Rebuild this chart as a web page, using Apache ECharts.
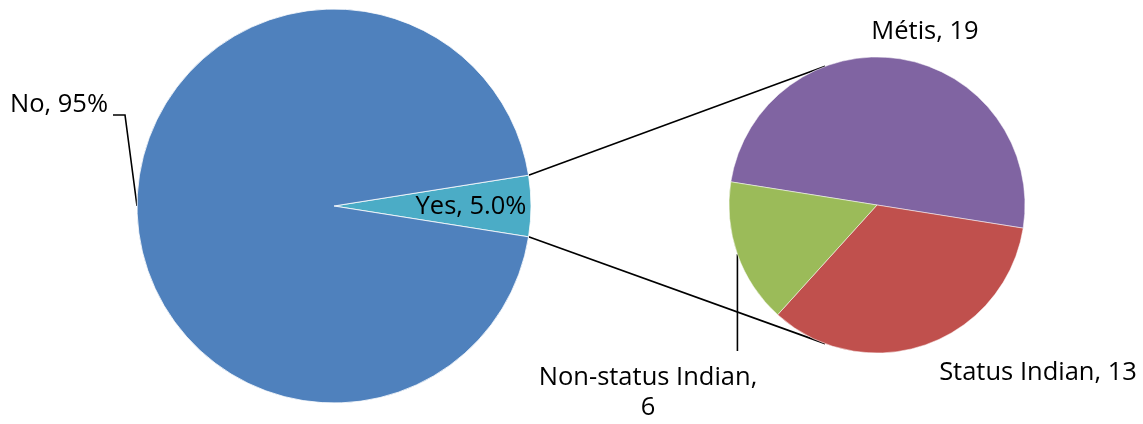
<!DOCTYPE html>
<html>
<head>
    <meta charset="utf-8"/>
    <title>Pie of pie</title>
    <script src="https://cdn.jsdelivr.net/npm/echarts@6/dist/echarts.min.js"></script>
    <style>
        html, body { margin: 0; padding: 0; background: #fff; }
        #chart { width: 1143px; height: 424px; }
    </style>
</head>
<body>
<div id="chart"></div>
<script>
    // 数据
    var mainNames = ['Yes', 'No'];
    var mainValues = [5.0, 95];
    var subNames = ['Métis', 'Status Indian', 'Non-status Indian'];
    var subValues = [19, 13, 6];

    var mainColors = ['#4BACC6', '#4F81BD'];
    var subColors = ['#8064A2', '#C0504D', '#9BBB59'];

    // 几何
    var mainCenter = [334, 206], mainR = 197;
    var subCenter = [877, 205], subR = 148;
    var connAngle = 110.5; // 右侧饼图连接点角度

    var yesHalf = mainValues[0] / (mainValues[0] + mainValues[1]) * 180;

    function pt(c, r, deg) {
        var a = deg * Math.PI / 180;
        return [c[0] + r * Math.cos(a), c[1] - r * Math.sin(a)];
    }

    var fontStyle = { fontFamily: 'Open Sans', fontSize: 25.5, color: '#000' };

    var mainData = mainNames.map(function (n, i) {
        return {
            name: n, value: mainValues[i],
            itemStyle: { color: mainColors[i] },
            labelLine: { show: n === 'No' }
        };
    });
    var subData = subNames.map(function (n, i) {
        return {
            name: n, value: subValues[i],
            itemStyle: { color: subColors[i] },
            labelLine: { show: n === 'Non-status Indian' }
        };
    });

    var p1 = pt(mainCenter, mainR, yesHalf), p2 = pt(mainCenter, mainR, -yesHalf);
    var q1 = pt(subCenter, subR, connAngle), q2 = pt(subCenter, subR, -connAngle);

    var myChart = echarts.init(document.getElementById('chart'));
    var option = {
        animation: false,
        graphic: [
            { type: 'line', shape: { x1: p1[0], y1: p1[1], x2: q1[0], y2: q1[1] }, style: { stroke: '#000', lineWidth: 1.6 }, z: 0 },
            { type: 'line', shape: { x1: p2[0], y1: p2[1], x2: q2[0], y2: q2[1] }, style: { stroke: '#000', lineWidth: 1.6 }, z: 0 }
        ],
        series: [{
            type: 'pie',
            center: mainCenter,
            radius: mainR,
            startAngle: yesHalf,
            clockwise: true,
            avoidLabelOverlap: false,
            emphasis: { disabled: true },
            itemStyle: { borderColor: '#fff', borderWidth: 0.8 },
            label: Object.assign({
                position: 'outside',
                formatter: function (p) {
                    return p.name + ', ' + (p.value < 10 ? p.value.toFixed(1) : p.value.toFixed(0)) + '%';
                }
            }, fontStyle),
            labelLine: { lineStyle: { color: '#000', width: 1.6 } },
            labelLayout: function (p) {
                if (p.dataIndex === 0) {
                    return { x: 471, y: 207, align: 'center', verticalAlign: 'middle' };
                }
                var s = p.labelLinePoints ? p.labelLinePoints[0] : pt(mainCenter, mainR, 180);
                return {
                    x: 108, y: 105, align: 'right', verticalAlign: 'middle',
                    labelLinePoints: [[s[0], s[1]], [125, 115], [113, 115]]
                };
            },
            data: mainData
        }, {
            type: 'pie',
            center: subCenter,
            radius: subR,
            startAngle: 180 - yesHalf,
            clockwise: true,
            avoidLabelOverlap: false,
            emphasis: { disabled: true },
            itemStyle: { borderColor: '#fff', borderWidth: 0.5 },
            label: Object.assign({
                position: 'outside',
                lineHeight: 30,
                formatter: function (p) {
                    return p.name === 'Non-status Indian' ? p.name + ',\n' + p.value : p.name + ', ' + p.value;
                }
            }, fontStyle),
            labelLine: { lineStyle: { color: '#000', width: 1.6 } },
            labelLayout: function (p) {
                if (p.dataIndex === 0) {
                    return { x: 925, y: 32, align: 'center', verticalAlign: 'middle' };
                }
                if (p.dataIndex === 1) {
                    return { x: 1038, y: 373, align: 'center', verticalAlign: 'middle' };
                }
                var s = p.labelLinePoints[0];
                return {
                    x: 648, y: 393, align: 'center', verticalAlign: 'middle',
                    labelLinePoints: [[s[0], s[1]], [s[0], 351], [s[0], 351]]
                };
            },
            data: subData
        }]
    };
    myChart.setOption(option);
</script>
</body>
</html>
